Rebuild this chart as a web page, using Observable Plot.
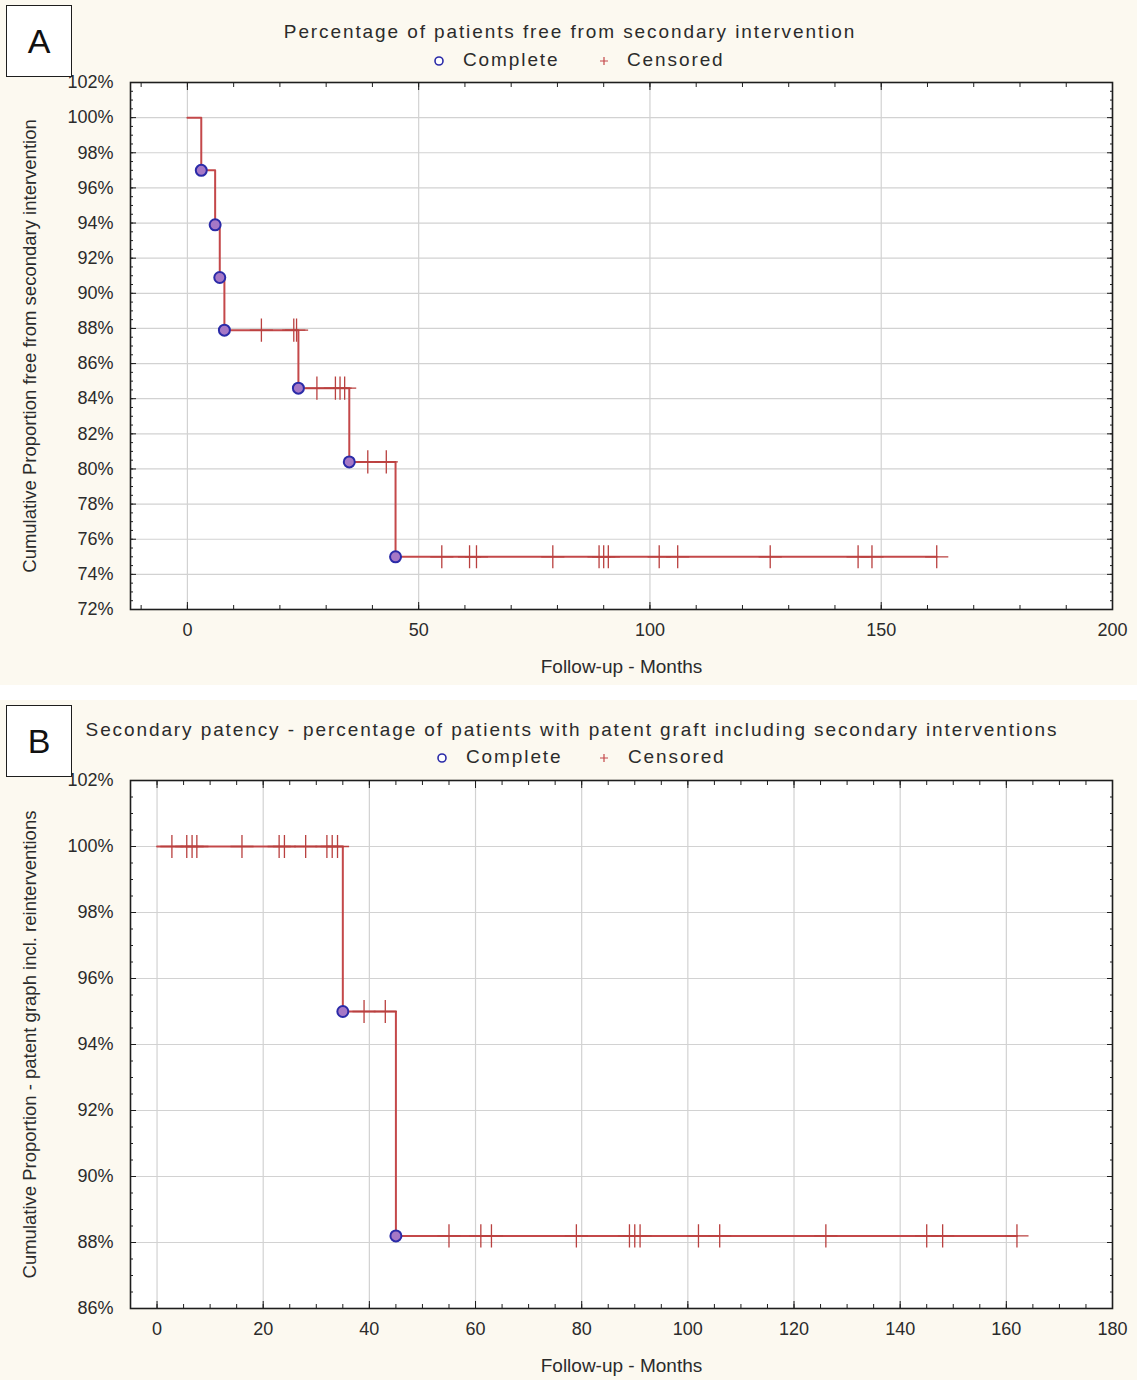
<!DOCTYPE html>
<html>
<head>
<meta charset="utf-8">
<script src="https://cdn.jsdelivr.net/npm/d3@7"></script>
<script src="https://cdn.jsdelivr.net/npm/@observablehq/plot@0.6"></script>
<style>
  html, body { margin: 0; padding: 0; background: #fff; }
  body { width: 1137px; height: 1380px; position: relative; overflow: hidden;
         font-family: "Liberation Sans", Arial, sans-serif; color: #2b2b2b; }
  .panel { position: absolute; left: 0; width: 1137px; background: #fcf9f0; }
  .panel svg { position: absolute; left: 0; top: 0; }
  .box { position: absolute; left: 6px; width: 66px; height: 72px; border: 1.5px solid #1e1e1e;
         background: #fff; font-size: 34px; color: #111; display: flex; align-items: center;
         justify-content: center; z-index: 3; box-sizing: border-box; }
  .title { position: absolute; white-space: nowrap; font-size: 19px; letter-spacing: 1.9px;
           line-height: 22px; z-index: 3; transform: translateX(-50%); }
  .leg { position: absolute; white-space: nowrap; font-size: 19px; letter-spacing: 1.9px;
         line-height: 22px; z-index: 3; }
  .leg svg { position: static; vertical-align: middle; }
</style>
</head>
<body>
<div id="panelA" class="panel" style="top:0;height:685px;">
  <div class="box" style="top:5px;">A</div>
  <div class="title" style="left:570px;top:21px;">Percentage of patients free from secondary intervention</div>
  <div class="leg" style="left:432px;top:49px;"><svg width="14" height="14"><circle cx="7" cy="7" r="4" fill="#fff" stroke="#2b2ba8" stroke-width="1.6"/></svg></div>
  <div class="leg" style="left:463px;top:49px;">Complete</div>
  <div class="leg" style="left:597px;top:49px;"><svg width="14" height="14"><path d="M7,3V11M3,7H11" stroke="#c4484a" stroke-width="1.2"/></svg></div>
  <div class="leg" style="left:627px;top:49px;">Censored</div>
</div>
<div id="panelB" class="panel" style="top:700px;height:680px;">
  <div class="box" style="top:5px;">B</div>
  <div class="title" style="left:572px;top:19px;">Secondary patency - percentage of patients with patent graft including secondary interventions</div>
  <div class="leg" style="left:435px;top:46px;"><svg width="14" height="14"><circle cx="7" cy="7" r="4" fill="#fff" stroke="#2b2ba8" stroke-width="1.6"/></svg></div>
  <div class="leg" style="left:466px;top:46px;">Complete</div>
  <div class="leg" style="left:597px;top:46px;"><svg width="14" height="14"><path d="M7,3V11M3,7H11" stroke="#c4484a" stroke-width="1.2"/></svg></div>
  <div class="leg" style="left:628px;top:46px;">Censored</div>
</div>
<script>
// ---------- Panel A data ----------
const eventMonthsA = [3, 6, 7, 8, 24, 35, 45];
const survivalA = [97.0, 93.9, 90.9, 87.9, 84.6, 80.4, 75.0];
const censoredMonthsA = [16, 23, 23.6, 28, 32, 33, 34, 39, 43, 55, 61, 62.5, 79, 89, 90, 91, 102, 106, 126, 145, 148, 162];
const xTicksA = [0, 50, 100, 150, 200];
const yTicksA = [72, 74, 76, 78, 80, 82, 84, 86, 88, 90, 92, 94, 96, 98, 100, 102];
const yLabelA = "Cumulative Proportion free from secondary intervention";

// ---------- Panel B data ----------
const eventMonthsB = [35, 45];
const survivalB = [95.0, 88.2];
const censoredMonthsB = [2.8, 5.6, 6.6, 7.5, 16, 23, 24, 28, 32, 33, 34, 39, 43, 55, 61, 63, 79, 89, 90, 91, 102, 106, 126, 145, 148, 162];
const xTicksB = [0, 20, 40, 60, 80, 100, 120, 140, 160, 180];
const yTicksB = [86, 88, 90, 92, 94, 96, 98, 100, 102];
const yLabelB = "Cumulative Proportion - patent graph incl. reinterventions";

const xLabel = "Follow-up - Months";

function kmPlot(cfg) {
  const {events, surv, censored, xDomain, yDomain, xTicks, xMinorStep, yTicks, yMinorStep,
         height, marginTop, marginBottom, yLabel} = cfg;
  const last = surv[surv.length - 1];
  const steps = [{t: 0, s: 100}, ...events.map((t, i) => ({t, s: surv[i]})), {t: d3.max(censored), s: last}];
  const sAt = t => { let v = 100; events.forEach((e, i) => { if (e <= t) v = surv[i]; }); return v; };
  const cens = censored.map(t => ({t, s: sAt(t)}));
  const comp = events.map((t, i) => ({t, s: surv[i]}));
  const xMinor = d3.range(Math.ceil(xDomain[0] / xMinorStep) * xMinorStep, xDomain[1] + 1e-9, xMinorStep);
  const yMinor = d3.range(yDomain[0], yDomain[1] + 1e-9, yMinorStep);
  const tickStroke = "#1e1e1e";
  return Plot.plot({
    width: 1137, height, marginLeft: 130, marginRight: 25, marginTop, marginBottom,
    style: {background: "transparent", fontFamily: '"Liberation Sans", Arial, sans-serif', fontSize: "18px", color: "#2b2b2b"},
    x: {domain: xDomain, label: null},
    y: {domain: yDomain, label: null},
    marks: [
      Plot.frame({fill: "white", stroke: "none"}),
      Plot.gridX(xTicks, {stroke: "#d2d2d2", strokeOpacity: 1, strokeWidth: 1.2}),
      Plot.gridY(yTicks, {stroke: "#d2d2d2", strokeOpacity: 1, strokeWidth: 1.2}),
      // inward minor ticks on all sides
      Plot.axisX(xMinor, {anchor: "bottom", tickSize: -4, fill: "none", stroke: tickStroke, label: null}),
      Plot.axisX(xMinor, {anchor: "top", tickSize: -4, fill: "none", stroke: tickStroke, label: null}),
      Plot.axisY(yMinor, {anchor: "left", tickSize: -3, fill: "none", stroke: tickStroke, label: null}),
      Plot.axisY(yMinor, {anchor: "right", tickSize: -3, fill: "none", stroke: tickStroke, label: null}),
      // inward major ticks
      Plot.axisX(xTicks, {anchor: "bottom", tickSize: -7, fill: "none", stroke: tickStroke, label: null}),
      Plot.axisX(xTicks, {anchor: "top", tickSize: -7, fill: "none", stroke: tickStroke, label: null}),
      Plot.axisY(yTicks, {anchor: "left", tickSize: -6, fill: "none", stroke: tickStroke, label: null}),
      Plot.axisY(yTicks, {anchor: "right", tickSize: -6, fill: "none", stroke: tickStroke, label: null}),
      // tick labels
      Plot.axisX(xTicks, {anchor: "bottom", tickSize: 0, tickPadding: 14, label: null, fontSize: 18}),
      Plot.axisY(yTicks, {anchor: "left", tickSize: 0, tickPadding: 17, label: null, fontSize: 18, tickFormat: d => d + "%"}),
      // axis titles
      Plot.text([xLabel], {frameAnchor: "bottom", dy: 57, fontSize: 19, lineAnchor: "middle", fill: "#2b2b2b"}),
      Plot.text([yLabel], {frameAnchor: "left", dx: -100, rotate: -90, fontSize: 18.5, lineAnchor: "middle", textAnchor: "middle", fill: "#2b2b2b"}),
      // survival curve
      Plot.line(steps, {x: "t", y: "s", curve: "step-after", stroke: "#c4484a", strokeWidth: 2}),
      Plot.dot(cens, {x: "t", y: "s", symbol: "plus", r: 7.5, stroke: "#b9403f", strokeWidth: 1.3}),
      Plot.dot(comp, {x: "t", y: "s", r: 5.5, stroke: "#2b2ba8", strokeWidth: 2, fill: "#a678c6"}),
      Plot.frame({stroke: "#1e1e1e", strokeWidth: 1.6})
    ]
  });
}

const plotA = kmPlot({
  events: eventMonthsA, surv: survivalA, censored: censoredMonthsA,
  xDomain: [-12.3, 200], yDomain: [72, 102], xTicks: xTicksA, xMinorStep: 10,
  yTicks: yTicksA, yMinorStep: 0.5, height: 685, marginTop: 82, marginBottom: 76, yLabel: yLabelA
});
document.getElementById("panelA").appendChild(plotA);

const plotB = kmPlot({
  events: eventMonthsB, surv: survivalB, censored: censoredMonthsB,
  xDomain: [-5, 180], yDomain: [86, 102], xTicks: xTicksB, xMinorStep: 5,
  yTicks: yTicksB, yMinorStep: 0.5, height: 680, marginTop: 80, marginBottom: 72, yLabel: yLabelB
});
document.getElementById("panelB").appendChild(plotB);
</script>
</body>
</html>
